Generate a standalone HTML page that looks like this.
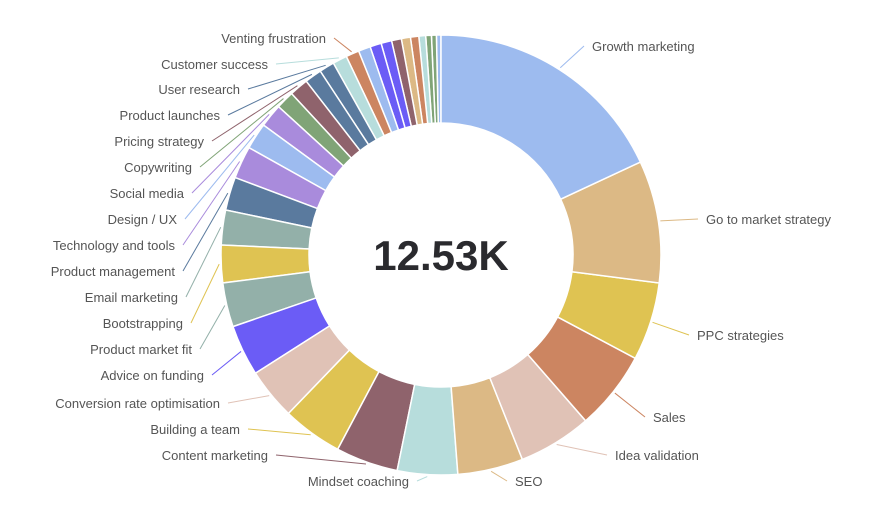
<!DOCTYPE html>
<html><head><meta charset="utf-8">
<style>
html,body{margin:0;padding:0;background:#fff;}
svg text{font-family:"Liberation Sans",sans-serif;font-size:13px;fill:#555;}
</style></head>
<body>
<svg id="s" width="883" height="525" viewBox="0 0 883 525" xmlns="http://www.w3.org/2000/svg">
<text x="441" y="270" text-anchor="middle" style="font-size:42px;font-weight:bold;fill:#2a2a2e">12.53K</text>
</svg>
<script>
var cx=441,cy=255,R=220,r=132;
var segs=[
[65,"#9dbbef"],[32.3,"#dcb985"],[20.7,"#dfc352"],[20.9,"#cc8561"],[19.4,"#e0c2b6"],[17.3,"#dcb985"],
[15.9,"#b7dddc"],[16.5,"#8f636c"],[15.9,"#dfc352"],[13.6,"#e0c2b6"],[13.5,"#6b5cf6"],[11.7,"#93b0a9"],
[9.9,"#dfc352"],[9.2,"#93b0a9"],[8.8,"#5a7a9e"],[8.6,"#a98bdc"],[7,"#9dbbef"],[6.2,"#a98bdc"],
[4.8,"#80a477"],[5,"#8f636c"],[4.5,"#5a7a9e"],[4,"#5a7a9e"],[3.8,"#b7dddc"],[3.5,"#cc8561"],
[3.2,"#9dbbef"],[3,"#6b5cf6"],[2.8,"#6b5cf6"],[2.6,"#8f636c"],[2.4,"#dcb985"],[2.2,"#cc8561"],[1.8,"#b7dddc"],[1.5,"#80a477"],[1.3,"#80a477"],[1.2,"#9dbbef"]];
var tot=segs.reduce(function(a,b){return a+b[0]},0);
var k=360/tot;
var NS="http://www.w3.org/2000/svg",s=document.getElementById("s");
function pt(a,rad){a=a*Math.PI/180;return [cx+rad*Math.sin(a),cy-rad*Math.cos(a)];}
var a0=0,mids=[];
segs.forEach(function(g){var a1=a0+g[0]*k;var p1=pt(a0,R),p2=pt(a1,R),p3=pt(a1,r),p4=pt(a0,r);var lg=(a1-a0)>180?1:0;
var p=document.createElementNS(NS,"path");
p.setAttribute("d","M"+p1+"A"+R+","+R+" 0 "+lg+" 1 "+p2+"L"+p3+"A"+r+","+r+" 0 "+lg+" 0 "+p4+"Z");
p.setAttribute("fill",g[1]);p.setAttribute("stroke","#fff");p.setAttribute("stroke-width","1.5");
s.insertBefore(p,s.firstChild);mids.push((a0+a1)/2);a0=a1;});
var labels=[
[0,"Growth marketing",592,46,"start"],[1,"Go to market strategy",706,219,"start"],[2,"PPC strategies",697,335,"start"],
[3,"Sales",653,417,"start"],[4,"Idea validation",615,455,"start"],[5,"SEO",515,481,"start"],
[6,"Mindset coaching",409,481,"end"],[7,"Content marketing",268,455,"end"],[8,"Building a team",240,429,"end"],
[9,"Conversion rate optimisation",220,403,"end"],[10,"Advice on funding",204,375,"end"],[11,"Product market fit",192,349,"end"],
[12,"Bootstrapping",183,323,"end"],[13,"Email marketing",178,297,"end"],[14,"Product management",175,271,"end"],
[15,"Technology and tools",175,245,"end"],[16,"Design / UX",177,219,"end"],[17,"Social media",184,193,"end"],
[18,"Copywriting",192,167,"end"],[19,"Pricing strategy",204,141,"end"],[20,"Product launches",220,115,"end"],
[21,"User research",240,89,"end"],[22,"Customer success",268,64,"end"],[23,"Venting frustration",326,38,"end"]];
labels.forEach(function(l){
var t=document.createElementNS(NS,"text");t.setAttribute("x",l[2]);t.setAttribute("y",l[3]+5);
t.setAttribute("text-anchor",l[4]);t.textContent=l[1];s.appendChild(t);
var m=pt(mids[l[0]],R+2);var lx=l[4]=="start"?l[2]-8:l[2]+8;var ly=l[3];
var p=document.createElementNS(NS,"path");
p.setAttribute("d","M"+lx+","+ly+" L"+m[0]+","+m[1]);
p.setAttribute("fill","none");p.setAttribute("stroke",segs[l[0]][1]);p.setAttribute("stroke-width","1");
s.appendChild(p);});
</script>
</body></html>
